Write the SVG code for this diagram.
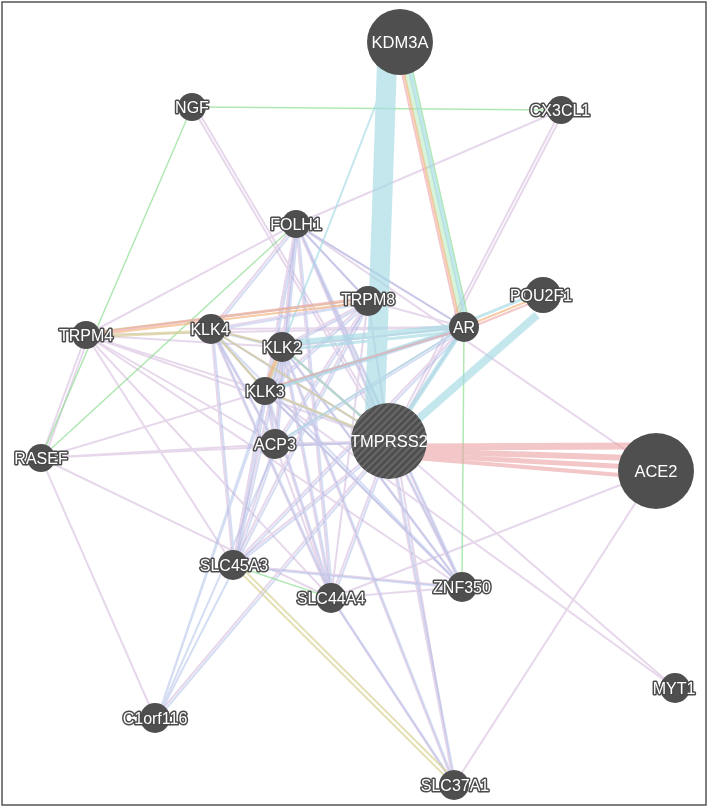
<svg xmlns="http://www.w3.org/2000/svg" width="708" height="809" viewBox="0 0 708 809">
<defs>
<style>
.cx{stroke:#c9a8d5;stroke-width:2;opacity:.45;fill:none}
.cl{stroke:#9cb0e3;stroke-width:2;opacity:.42;fill:none}
.ge{stroke:#8ede92;stroke-width:1.5;opacity:.7;fill:none}
.pw{stroke:#a4dbe3;opacity:.65;fill:none}
.ph{stroke:#eca2a4;opacity:.6;fill:none}
.pr{stroke:#f3b77f;opacity:.7;fill:none}
.sd{stroke:#d9d398;stroke-width:2;opacity:.7;fill:none}
.n{fill:#4f4f4f}
.l{font-family:"Liberation Sans",Arial,sans-serif;font-size:16px;fill:#fff;stroke:#4a4a4a;stroke-width:3;paint-order:stroke;stroke-linejoin:round;text-anchor:middle}
.lb{font-family:"Liberation Sans",Arial,sans-serif;font-size:16.5px;fill:#fff;text-anchor:middle}
</style>
<pattern id="hatch" patternUnits="userSpaceOnUse" width="5" height="5" patternTransform="rotate(45)">
<rect width="5" height="5" fill="#4f4f4f"/>
<line x1="1" y1="0" x2="1" y2="5" stroke="#767676" stroke-width="1.3"/>
</pattern>
</defs>
<rect x="0" y="0" width="708" height="809" fill="#fff"/>
<rect x="2" y="2" width="704" height="803" fill="none" stroke="#555" stroke-width="1.5"/>

<g id="connectors">
<g class="cx">
<line x1="296" y1="224" x2="368" y2="301"/><line x1="296" y1="224" x2="211" y2="329"/><line x1="296" y1="224" x2="282" y2="347"/><line x1="296" y1="224" x2="265" y2="391"/><line x1="296" y1="224" x2="275" y2="444"/><line x1="296" y1="224" x2="389" y2="441"/><line x1="296" y1="224" x2="233" y2="565"/><line x1="296" y1="224" x2="464" y2="327"/>
<line x1="368" y1="301" x2="211" y2="329"/><line x1="368" y1="301" x2="282" y2="347"/><line x1="368" y1="301" x2="265" y2="391"/><line x1="368" y1="301" x2="275" y2="444"/><line x1="368" y1="301" x2="389" y2="441"/><line x1="368" y1="301" x2="233" y2="565"/><line x1="368" y1="301" x2="464" y2="327"/>
<line x1="211" y1="329" x2="282" y2="347"/><line x1="211" y1="329" x2="265" y2="391"/><line x1="211" y1="329" x2="275" y2="444"/><line x1="211" y1="329" x2="389" y2="441"/><line x1="211" y1="329" x2="233" y2="565"/><line x1="211" y1="329" x2="464" y2="327"/>
<line x1="282" y1="347" x2="265" y2="391"/><line x1="282" y1="347" x2="275" y2="444"/><line x1="282" y1="347" x2="389" y2="441"/><line x1="282" y1="347" x2="233" y2="565"/><line x1="282" y1="347" x2="464" y2="327"/>
<line x1="265" y1="391" x2="275" y2="444"/><line x1="265" y1="391" x2="389" y2="441"/><line x1="265" y1="391" x2="233" y2="565"/><line x1="265" y1="391" x2="464" y2="327"/>
<line x1="275" y1="444" x2="389" y2="441"/><line x1="275" y1="444" x2="233" y2="565"/><line x1="275" y1="444" x2="464" y2="327"/>
<line x1="389" y1="441" x2="233" y2="565"/><line x1="389" y1="441" x2="464" y2="327"/><line x1="233" y1="565" x2="464" y2="327"/>
<line x1="331" y1="598" x2="296" y2="224"/><line x1="331" y1="598" x2="282" y2="347"/><line x1="331" y1="598" x2="265" y2="391"/><line x1="331" y1="598" x2="211" y2="329"/><line x1="331" y1="598" x2="389" y2="441"/><line x1="331" y1="598" x2="275" y2="444"/><line x1="331" y1="598" x2="368" y2="301"/>
<line x1="462" y1="587" x2="282" y2="347"/><line x1="462" y1="587" x2="265" y2="391"/><line x1="462" y1="587" x2="331" y2="598"/><line x1="462" y1="587" x2="233" y2="565"/><line x1="462" y1="587" x2="389" y2="441"/><line x1="462" y1="587" x2="296" y2="224"/>
<line x1="86" y1="335" x2="296" y2="224"/><line x1="86" y1="335" x2="41" y2="458"/><line x1="89" y1="336" x2="44" y2="459"/><line x1="86" y1="335" x2="265" y2="391"/><line x1="86" y1="335" x2="389" y2="441"/><line x1="86" y1="335" x2="275" y2="444"/><line x1="86" y1="335" x2="464" y2="327"/><line x1="86" y1="335" x2="462" y2="587"/><line x1="86" y1="335" x2="233" y2="565"/><line x1="86" y1="335" x2="331" y2="598"/><line x1="86" y1="335" x2="282" y2="347"/>
<line x1="41" y1="458" x2="275" y2="444"/><line x1="41" y1="458" x2="389" y2="441"/><line x1="41" y1="458" x2="155" y2="718"/><line x1="41" y1="458" x2="331" y2="598"/><line x1="41" y1="458" x2="265" y2="391"/>
<line x1="192" y1="107" x2="389" y2="441"/><line x1="195" y1="106" x2="392" y2="440"/>
<line x1="561" y1="110" x2="296" y2="224"/><line x1="561" y1="110" x2="389" y2="441"/><line x1="564" y1="111" x2="392" y2="442"/>
<line x1="296" y1="224" x2="656" y2="471"/><line x1="331" y1="598" x2="656" y2="471"/><line x1="656" y1="471" x2="454" y2="785"/>
<line x1="675" y1="688" x2="265" y2="391"/><line x1="675" y1="688" x2="282" y2="347"/>
<line x1="155" y1="718" x2="389" y2="441"/><line x1="454" y1="785" x2="389" y2="441"/><line x1="454" y1="785" x2="395" y2="443"/><line x1="454" y1="785" x2="331" y2="598"/><line x1="454" y1="785" x2="282" y2="347"/>
</g>
<g class="cl" transform="translate(2,1.5)">
<line x1="296" y1="224" x2="368" y2="301"/><line x1="296" y1="224" x2="211" y2="329"/><line x1="296" y1="224" x2="282" y2="347"/><line x1="296" y1="224" x2="265" y2="391"/><line x1="296" y1="224" x2="275" y2="444"/><line x1="296" y1="224" x2="389" y2="441"/><line x1="296" y1="224" x2="233" y2="565"/><line x1="296" y1="224" x2="464" y2="327"/>
<line x1="368" y1="301" x2="211" y2="329"/><line x1="368" y1="301" x2="282" y2="347"/><line x1="368" y1="301" x2="265" y2="391"/><line x1="368" y1="301" x2="275" y2="444"/><line x1="368" y1="301" x2="233" y2="565"/>
<line x1="211" y1="329" x2="282" y2="347"/><line x1="211" y1="329" x2="265" y2="391"/><line x1="211" y1="329" x2="275" y2="444"/><line x1="211" y1="329" x2="389" y2="441"/><line x1="211" y1="329" x2="233" y2="565"/>
<line x1="282" y1="347" x2="265" y2="391"/><line x1="282" y1="347" x2="275" y2="444"/><line x1="282" y1="347" x2="389" y2="441"/><line x1="282" y1="347" x2="233" y2="565"/>
<line x1="265" y1="391" x2="275" y2="444"/><line x1="265" y1="391" x2="389" y2="441"/><line x1="265" y1="391" x2="233" y2="565"/><line x1="265" y1="391" x2="464" y2="327"/>
<line x1="275" y1="444" x2="389" y2="441"/><line x1="275" y1="444" x2="233" y2="565"/><line x1="275" y1="444" x2="464" y2="327"/>
<line x1="389" y1="441" x2="233" y2="565"/><line x1="233" y1="565" x2="464" y2="327"/>
<line x1="331" y1="598" x2="296" y2="224"/><line x1="331" y1="598" x2="282" y2="347"/><line x1="331" y1="598" x2="265" y2="391"/><line x1="331" y1="598" x2="211" y2="329"/><line x1="331" y1="598" x2="389" y2="441"/>
<line x1="462" y1="587" x2="296" y2="224"/><line x1="462" y1="587" x2="211" y2="329"/><line x1="462" y1="587" x2="282" y2="347"/><line x1="462" y1="587" x2="265" y2="391"/><line x1="462" y1="587" x2="389" y2="441"/><line x1="462" y1="587" x2="233" y2="565"/>
<line x1="155" y1="718" x2="233" y2="565"/><line x1="155" y1="718" x2="275" y2="444"/><line x1="155" y1="718" x2="265" y2="391"/><line x1="155" y1="718" x2="389" y2="441"/><line x1="155" y1="718" x2="282" y2="347"/>
<line x1="454" y1="785" x2="389" y2="441"/><line x1="454" y1="785" x2="331" y2="598"/><line x1="454" y1="785" x2="282" y2="347"/>
</g>
<g class="ge">
<line x1="192" y1="107" x2="561" y2="110"/>
<line x1="192" y1="107" x2="41" y2="458"/>
<line x1="296" y1="224" x2="41" y2="458"/>
<line x1="464" y1="327" x2="462" y2="587"/>
<line x1="233" y1="565" x2="331" y2="598"/>
<line x1="400" y1="42" x2="464" y2="327" style="stroke-width:6;opacity:.5"/>
<line x1="405.9" y1="40.7" x2="469.9" y2="325.7"/>
</g>
<g class="sd">
<line x1="86" y1="337" x2="211" y2="331" style="stroke-width:3"/>
<line x1="86" y1="333" x2="368" y2="299"/>
<line x1="233" y1="565" x2="454" y2="785"/>
<line x1="237" y1="563" x2="458" y2="783"/>
<line x1="211" y1="329" x2="389" y2="441"/>
<line x1="282" y1="347" x2="389" y2="441"/>
<line x1="265" y1="391" x2="389" y2="441"/>
<line x1="211" y1="329" x2="282" y2="347"/>
<line x1="211" y1="329" x2="265" y2="391"/>
<line x1="283" y1="347" x2="266" y2="391"/>
</g>
<g class="pw">
<line x1="387" y1="62" x2="375" y2="412" style="stroke-width:20"/>
<line x1="400" y1="435" x2="537" y2="315" style="stroke-width:8"/>
<line x1="282" y1="344" x2="464" y2="326" style="stroke-width:6"/>
<line x1="282" y1="350" x2="464" y2="331" style="stroke-width:3"/>
<line x1="265" y1="391" x2="464" y2="327" style="stroke-width:4"/>
<line x1="389" y1="441" x2="464" y2="327" style="stroke-width:5"/>
<line x1="462.5" y1="323.3" x2="541.5" y2="291.3" style="stroke-width:3"/>
<line x1="403.4" y1="41.2" x2="467.4" y2="326.2" style="stroke-width:4"/>
<line x1="400" y1="42" x2="282" y2="347" style="stroke-width:2"/>
<line x1="275" y1="444" x2="464" y2="327" style="stroke-width:2"/>
<line x1="282" y1="347" x2="389" y2="441" style="stroke-width:2"/>
</g>
<g class="pr">
<line x1="464" y1="327" x2="543" y2="295" style="stroke-width:2"/>
<line x1="397.1" y1="42.7" x2="461.1" y2="327.7" style="stroke-width:2"/>
<line x1="86" y1="336" x2="368" y2="302" style="stroke-width:2"/>
<line x1="280" y1="349" x2="263" y2="392" style="stroke-width:3"/>
</g>
<g class="ph">
<line x1="415" y1="447" x2="632" y2="446" style="stroke-width:7"/>
<line x1="415" y1="451" x2="632" y2="458" style="stroke-width:6"/>
<line x1="415" y1="455" x2="632" y2="467" style="stroke-width:5"/>
<line x1="415" y1="458" x2="632" y2="476" style="stroke-width:4"/>
<line x1="395.1" y1="43.1" x2="459.1" y2="328.1" style="stroke-width:2"/>
<line x1="465.1" y1="329.8" x2="544.1" y2="297.8" style="stroke-width:2"/>
<line x1="265" y1="389" x2="464" y2="329" style="stroke-width:2"/>
<line x1="86" y1="334" x2="368" y2="298" style="stroke-width:3"/>
</g>
</g>

<g id="KDM3A"><circle class="n" cx="400" cy="42" r="33"/><text class="lb" x="400" y="48">KDM3A</text></g>
<g id="NGF"><circle class="n" cx="192" cy="107" r="14"/><text class="l" x="192" y="113">NGF</text></g>
<g id="CX3CL1"><circle class="n" cx="561" cy="110" r="14"/><text class="l" x="560" y="116">CX3CL1</text></g>
<g id="FOLH1"><circle class="n" cx="296" cy="224" r="14"/><text class="l" x="296" y="230">FOLH1</text></g>
<g id="TRPM8"><circle class="n" cx="368" cy="301" r="15"/><text class="l" x="368" y="305">TRPM8</text></g>
<g id="POU2F1"><circle class="n" cx="543" cy="295" r="18"/><text class="l" x="541" y="301">POU2F1</text></g>
<g id="AR"><circle class="n" cx="464" cy="327" r="15"/><text class="l" x="464" y="333">AR</text></g>
<g id="TRPM4"><circle class="n" cx="86" cy="335" r="14"/><text class="l" x="86" y="341">TRPM4</text></g>
<g id="KLK4"><circle class="n" cx="211" cy="329" r="15"/><text class="l" x="210" y="335">KLK4</text></g>
<g id="KLK2"><circle class="n" cx="282" cy="347" r="15"/><text class="l" x="282" y="353">KLK2</text></g>
<g id="KLK3"><circle class="n" cx="265" cy="391" r="14"/><text class="l" x="265" y="397">KLK3</text></g>
<g id="ACP3"><circle class="n" cx="275" cy="444" r="15"/><text class="l" x="275" y="450">ACP3</text></g>
<g id="TMPRSS2"><circle cx="389" cy="441" r="38" fill="url(#hatch)"/><text class="lb" x="389" y="447">TMPRSS2</text></g>
<g id="ACE2"><circle class="n" cx="656" cy="471" r="38"/><text class="lb" x="656" y="477">ACE2</text></g>
<g id="RASEF"><circle class="n" cx="41" cy="458" r="14"/><text class="l" x="41" y="464">RASEF</text></g>
<g id="SLC45A3"><circle class="n" cx="233" cy="565" r="15"/><text class="l" x="234" y="571">SLC45A3</text></g>
<g id="SLC44A4"><circle class="n" cx="331" cy="598" r="15"/><text class="l" x="331" y="604">SLC44A4</text></g>
<g id="ZNF350"><circle class="n" cx="462" cy="587" r="15"/><text class="l" x="462" y="593">ZNF350</text></g>
<g id="MYT1"><circle class="n" cx="675" cy="688" r="15"/><text class="l" x="674" y="694">MYT1</text></g>
<g id="C1orf116"><circle class="n" cx="155" cy="718" r="15"/><text class="l" x="155" y="724">C1orf116</text></g>
<g id="SLC37A1"><circle class="n" cx="454" cy="785" r="15"/><text class="l" x="455" y="791">SLC37A1</text></g>
</svg>
